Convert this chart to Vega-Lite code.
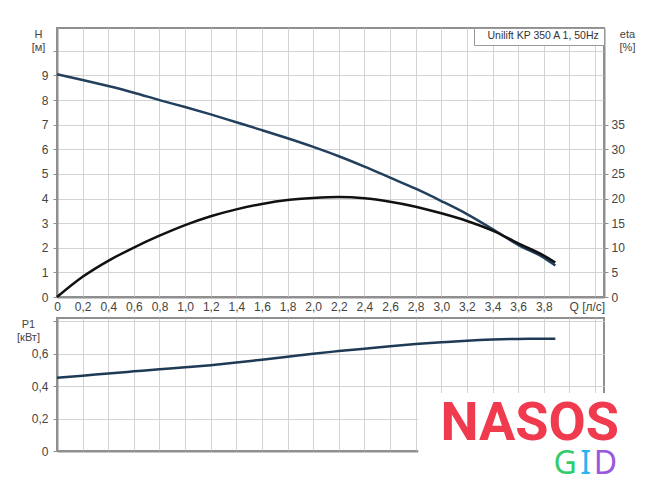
{"$schema": "https://vega.github.io/schema/vega-lite/v6.json",
"background": "white",
"padding": {"left": 15, "top": 26, "right": 5, "bottom": 5},
"datasets": {
  "pump": [
    {"Q": 0, "H": 9.05, "eta": 0, "P1": 0.451},
    {"Q": 0.2, "H": 8.82, "eta": 4.1, "P1": 0.464},
    {"Q": 0.4, "H": 8.57, "eta": 7.35, "P1": 0.478},
    {"Q": 0.6, "H": 8.3, "eta": 10.05, "P1": 0.491},
    {"Q": 0.8, "H": 8.0, "eta": 12.45, "P1": 0.504},
    {"Q": 1.0, "H": 7.72, "eta": 14.6, "P1": 0.516},
    {"Q": 1.2, "H": 7.42, "eta": 16.4, "P1": 0.529},
    {"Q": 1.4, "H": 7.1, "eta": 17.8, "P1": 0.545},
    {"Q": 1.6, "H": 6.78, "eta": 18.9, "P1": 0.563},
    {"Q": 1.8, "H": 6.45, "eta": 19.7, "P1": 0.581},
    {"Q": 2.0, "H": 6.1, "eta": 20.1, "P1": 0.6},
    {"Q": 2.2, "H": 5.72, "eta": 20.3, "P1": 0.616},
    {"Q": 2.4, "H": 5.3, "eta": 20.05, "P1": 0.631},
    {"Q": 2.6, "H": 4.85, "eta": 19.35, "P1": 0.646},
    {"Q": 2.8, "H": 4.4, "eta": 18.35, "P1": 0.659},
    {"Q": 3.0, "H": 3.9, "eta": 17.0, "P1": 0.67},
    {"Q": 3.2, "H": 3.37, "eta": 15.45, "P1": 0.68},
    {"Q": 3.4, "H": 2.76, "eta": 13.5, "P1": 0.687},
    {"Q": 3.6, "H": 2.12, "eta": 10.9, "P1": 0.691},
    {"Q": 3.8, "H": 1.6, "eta": 8.4, "P1": 0.692},
    {"Q": 3.89, "H": 1.28, "eta": 7.0, "P1": 0.692}
  ]
},
"vconcat": [
  {
    "width": 547,
    "height": 269,
    "data": {"name": "pump"},
    "layer": [
      {
        "mark": {"type": "line", "interpolate": "monotone", "strokeWidth": 2.5},
        "encoding": {
          "x": {"field": "Q", "type": "quantitative",
            "scale": {"domain": [0, 4.27], "nice": false},
            "axis": {
              "values": [0, 0.2, 0.4, 0.6, 0.8, 1.0, 1.2, 1.4, 1.6, 1.8, 2.0, 2.2, 2.4, 2.6, 2.8, 3.0, 3.2, 3.4, 3.6, 3.8, 4.0, 4.2],
              "tickCount": 40,
              "labelExpr": "datum.value > 3.9 ? '' : datum.value == 0 ? '0' : replace(format(datum.value, '.1f'), '.', ',')",
              "ticks": false, "labelPadding": 4, "labelFlush": false, "labelOverlap": false,
              "title": "Q [л/с]", "titleX": 512, "titleY": 4, "titleAlign": "left", "titleBaseline": "top", "titleFontSize": 12
            }},
          "y": {"field": "H", "type": "quantitative",
            "scale": {"domain": [0, 10.93], "nice": false},
            "axis": {
              "values": [0, 1, 2, 3, 4, 5, 6, 7, 8, 9, 10],
              "tickCount": 20,
              "labelExpr": "datum.value > 9.5 ? '' : format(datum.value, 'd')",
              "labelPadding": 5, "labelOverlap": false,
              "title": ["H", "[м]"], "titleX": -19, "titleY": 0, "titleAlign": "center", "titleBaseline": "top"
            }},
          "color": {"datum": "Unilift KP 350 A 1, 50Hz", "type": "nominal",
            "scale": {"range": ["#22405e"]},
            "legend": {"orient": "top-right", "offset": 0, "padding": 3, "strokeColor": "#999", "fillColor": "white",
              "title": null, "symbolSize": 0, "symbolOpacity": 0, "symbolStrokeWidth": 0, "labelOffset": 0,
              "labelFontSize": 10.5, "labelColor": "#333", "labelLimit": 300}}
        }
      },
      {
        "mark": {"type": "line", "interpolate": "monotone", "strokeWidth": 2.5, "color": "#111111"},
        "encoding": {
          "x": {"field": "Q", "type": "quantitative", "scale": {"domain": [0, 4.27], "nice": false}},
          "y": {"field": "eta", "type": "quantitative",
            "scale": {"domain": [0, 54.65], "nice": false},
            "axis": {
              "orient": "right", "grid": false,
              "values": [0, 5, 10, 15, 20, 25, 30, 35],
              "tickCount": 20,
              "labelExpr": "format(datum.value, 'd')",
              "labelPadding": 3, "labelOverlap": false,
              "title": ["eta", "[%]"], "titleX": 23, "titleY": 0, "titleAlign": "center", "titleBaseline": "top"
            }}
        }
      }
    ],
    "resolve": {"scale": {"y": "independent"}}
  },
  {
    "width": 547,
    "height": 133,
    "layer": [
      {
        "data": {"name": "pump"},
        "mark": {"type": "line", "interpolate": "monotone", "strokeWidth": 2.5, "color": "#1f3a55"},
        "encoding": {
          "x": {"field": "Q", "type": "quantitative",
            "scale": {"domain": [0, 4.27], "nice": false},
            "axis": {
              "values": [0, 0.2, 0.4, 0.6, 0.8, 1.0, 1.2, 1.4, 1.6, 1.8, 2.0, 2.2, 2.4, 2.6, 2.8, 3.0, 3.2, 3.4, 3.6, 3.8, 4.0, 4.2],
              "tickCount": 40,
              "labels": false, "ticks": false, "title": null
            }},
          "y": {"field": "P1", "type": "quantitative",
            "scale": {"domain": [0, 0.82], "nice": false},
            "axis": {
              "values": [0, 0.2, 0.4, 0.6, 0.8],
              "tickCount": 10,
              "labelExpr": "datum.value > 0.7 ? '' : datum.value == 0 ? '0' : replace(format(datum.value, '.1f'), '.', ',')",
              "labelPadding": 5, "labelOverlap": false,
              "title": ["P1", "[кВт]"], "titleX": -29, "titleY": 0, "titleAlign": "center", "titleBaseline": "top"
            }}
        }
      },
      {
        "data": {"values": [{"Q": 2.82, "Q2": 4.4, "P": 0.357, "P2": -0.04}]},
        "mark": {"type": "rect", "fill": "white"},
        "encoding": {
          "x": {"field": "Q", "type": "quantitative", "scale": {"domain": [0, 4.27], "nice": false}},
          "x2": {"field": "Q2"},
          "y": {"field": "P", "type": "quantitative", "scale": {"domain": [0, 0.82], "nice": false}},
          "y2": {"field": "P2"}
        }
      },
      {
        "data": {"values": [{"word": "NASOS", "Q": 3.69, "P": 0.066}]},
        "mark": {"type": "text", "font": "Roboto", "fontWeight": "bold", "fontSize": 54, "color": "#f03a4e", "align": "center", "baseline": "alphabetic"},
        "encoding": {
          "x": {"field": "Q", "type": "quantitative", "scale": {"domain": [0, 4.27], "nice": false}},
          "y": {"field": "P", "type": "quantitative", "scale": {"domain": [0, 0.82], "nice": false}},
          "text": {"field": "word"}
        }
      },
      {
        "data": {"values": [
          {"word": "G", "Q": 3.966, "P": -0.14},
          {"word": "I", "Q": 4.126, "P": -0.14},
          {"word": "D", "Q": 4.282, "P": -0.14}
        ]},
        "mark": {"type": "text", "font": "Noto Sans", "fontSize": 32, "align": "center", "baseline": "alphabetic"},
        "encoding": {
          "x": {"field": "Q", "type": "quantitative", "scale": {"domain": [0, 4.27], "nice": false}},
          "y": {"field": "P", "type": "quantitative", "scale": {"domain": [0, 0.82], "nice": false}},
          "text": {"field": "word"},
          "color": {"field": "word", "type": "nominal",
            "scale": {"domain": ["G", "I", "D"], "range": ["#33cc6a", "#2ab3ee", "#9a58de"]},
            "legend": null}
        }
      }
    ]
  }
],
"spacing": 21,
"bounds": "flush",
"resolve": {"scale": {"color": "independent"}, "legend": {"color": "independent"}},
"config": {
  "font": "Liberation Sans",
  "view": {"stroke": "#8f8f8f", "strokeWidth": 2},
  "axis": {
    "labelFont": "Liberation Sans", "labelFontSize": 12, "labelColor": "#444",
    "titleFont": "Liberation Sans", "titleFontSize": 11, "titleFontWeight": "normal", "titleColor": "#444",
    "titleAngle": 0, "titleLineHeight": 13,
    "gridColor": "#d3d3d3", "gridWidth": 1, "gridOpacity": 1,
    "domainColor": "#8f8f8f", "domainWidth": 2, "tickColor": "#8f8f8f", "tickSize": 4
  }
}
}
